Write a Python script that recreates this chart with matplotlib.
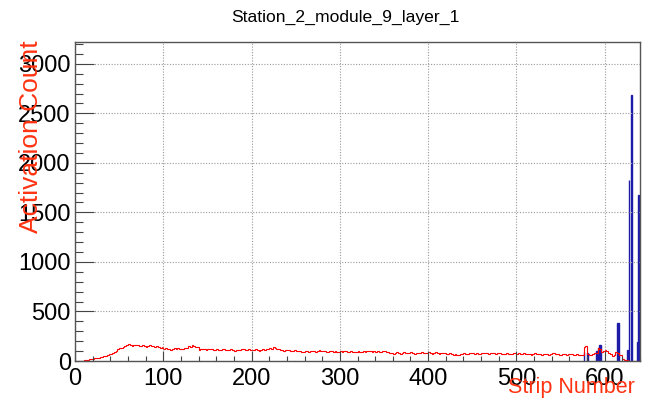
import matplotlib
matplotlib.use("Agg")
import matplotlib.pyplot as plt
import numpy as np
from matplotlib.ticker import MultipleLocator

title = "Station_2_module_9_layer_1"
x_label = "Strip Number"
y_label = "Activation Count"

# red histogram, read in 2-strip steps (strips 0..639)
red_counts = [
    0, 0, 2, 3, 5, 6, 10, 13, 16, 19, 22, 27, 30, 35, 40, 44, 50, 54, 60, 66,
    72, 84, 95, 104, 118, 130, 136, 144, 150, 162, 170, 160, 150, 160, 166, 158, 150, 155, 162, 150,
    145, 152, 162, 155, 150, 145, 148, 140, 134, 140, 126, 130, 124, 118, 112, 120, 128, 118, 132, 126,
    118, 126, 136, 130, 150, 142, 160, 154, 138, 146, 112, 122, 125, 118, 110, 120, 118, 124, 108, 114,
    120, 114, 110, 118, 124, 114, 106, 112, 118, 112, 104, 110, 116, 110, 118, 120, 108, 112, 118, 110,
    114, 108, 122, 116, 102, 110, 118, 112, 126, 118, 132, 126, 138, 130, 118, 124, 110, 114, 100, 108,
    112, 106, 98, 104, 110, 104, 96, 100, 90, 94, 104, 96, 92, 98, 104, 98, 92, 100, 108, 100,
    96, 102, 88, 94, 104, 98, 90, 96, 86, 92, 98, 90, 104, 96, 88, 94, 100, 92, 86, 94,
    100, 94, 88, 96, 92, 98, 104, 96, 90, 98, 92, 100, 88, 92, 100, 96, 94, 88, 82, 78,
    74, 80, 86, 78, 72, 78, 88, 80, 76, 82, 90, 82, 74, 80, 84, 78, 88, 82, 76, 82,
    88, 80, 74, 80, 86, 78, 72, 78, 82, 76, 68, 74, 76, 70, 64, 68, 58, 62, 72, 66,
    80, 74, 70, 76, 84, 78, 72, 78, 68, 72, 82, 76, 84, 78, 72, 78, 82, 76, 70, 76,
    82, 74, 68, 74, 80, 72, 66, 72, 82, 76, 72, 78, 68, 72, 80, 72, 74, 70, 62, 68,
    76, 70, 72, 66, 60, 66, 74, 68, 64, 70, 84, 78, 72, 66, 60, 64, 70, 66, 60, 66,
    74, 68, 60, 64, 70, 62, 58, 62, 140, 150, 72, 64, 60, 66, 78, 84, 130, 118, 90, 98,
    112, 104, 76, 66, 52, 58, 90, 80, 58, 64, 18, 12, 6, 4, 3, 2, 2, 1, 1, 0,
]
red_width = 2

# blue histogram: strips where it shows above the red one
blue_strips = [576, 580, 590, 592, 594, 595, 614, 615, 625, 627, 630, 637, 638, 639]
blue_counts = [90, 85, 100, 130, 160, 160, 387, 387, 110, 1828, 2687, 190, 1680, 190]

n_strips = 640
y_max = 3220

RED = "#ff0000"
BLUE = "#1c1ca8"
LABEL_COLOR = "#ff3311"


def main() -> None:
    plt.rcParams["font.family"] = ["Liberation Sans", "DejaVu Sans"]
    fig = plt.figure(figsize=(6.5, 4.01), dpi=100)
    ax = fig.add_axes([75 / 650, 1 - 361 / 401, 565 / 650, 319 / 401])

    # blue histogram bins (outlined, unit width)
    ax.bar(blue_strips, blue_counts, width=1, align="edge", fill=False,
           edgecolor=BLUE, linewidth=1.0)

    # red histogram on top
    edges_r = np.arange(0, n_strips + 1, red_width)
    ax.stairs(red_counts, edges_r, color=RED, linewidth=0.8)

    ax.set_xlim(0, n_strips)
    ax.set_ylim(0, y_max)

    ax.xaxis.set_major_locator(MultipleLocator(100))
    ax.xaxis.set_minor_locator(MultipleLocator(20))
    ax.yaxis.set_major_locator(MultipleLocator(500))
    ax.yaxis.set_minor_locator(MultipleLocator(100))
    ax.tick_params(which="both", direction="in", top=False, right=False,
                   width=0.8, color="#444444", labelsize=17)
    ax.tick_params(axis="x", which="major", length=7, pad=5)
    ax.tick_params(axis="x", which="minor", length=3.6)
    ax.tick_params(axis="y", which="major", length=14, pad=3)
    ax.tick_params(axis="y", which="minor", length=6)
    ax.grid(True, which="major", linestyle=(0, (1, 1.5)), color="#999999",
            linewidth=0.8)
    for s in ax.spines.values():
        s.set_color("#555555")
        s.set_linewidth(1.0)

    fig.text(345 / 650, 1 - 17 / 401, title, ha="center", va="center",
             fontsize=12.6)
    fig.text(635 / 650, 1 - 388 / 401, x_label, ha="right", va="center",
             fontsize=15.5, color=LABEL_COLOR)
    fig.text(31 / 650, 1 - 40 / 401, y_label, ha="center", va="top",
             rotation=90, fontsize=19, color=LABEL_COLOR)

    fig.savefig("out.png", dpi=100)


if __name__ == "__main__":
    main()
